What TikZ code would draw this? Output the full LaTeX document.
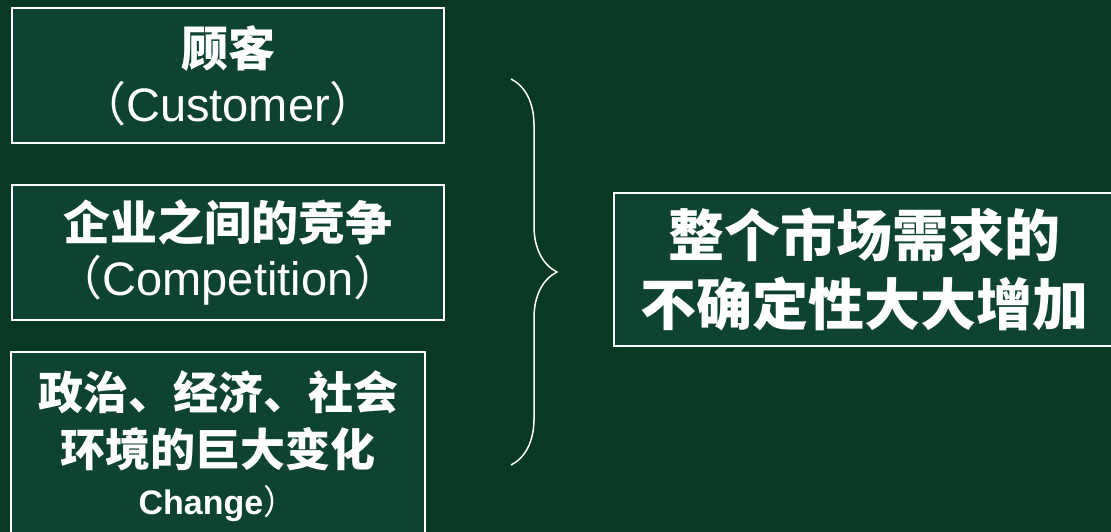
\documentclass[tikz,border=0pt]{standalone}
\usepackage{fontspec}
\setmainfont{Liberation Sans}
\newfontfamily\cjk{Noto Sans CJK SC}
\usetikzlibrary{positioning,decorations.pathreplacing}
\definecolor{bggreen}{RGB}{8,57,35}
\definecolor{boxgreen}{RGB}{14,66,50}

\begin{document}
\begin{tikzpicture}[x=1pt, y=-1pt,
    factor/.style={draw=white, fill=boxgreen, line width=1.5pt, text=white, align=center, inner sep=0pt, minimum width=432pt, minimum height=135pt, font=\fontsize{47}{55}\selectfont},
    result/.style={factor, minimum width=500pt, minimum height=153pt, font=\cjk\bfseries\fontsize{56}{69}\selectfont},
    brace/.style={decorate, decoration={brace, amplitude=46pt}, draw=white, line width=1.5pt}
]
    \useasboundingbox (0,0) rectangle (1111,532);
    \fill[bggreen] (0,0) rectangle (1111,532);
    \clip (0,0) rectangle (1111,532);

    % factors on the left
    \node[factor] (cust) at (228,75.5) {{\cjk\bfseries 顾客}\\{\cjk （}Customer{\cjk ）}};
    \node[factor] (comp) at (228,252.5) {{\cjk\bfseries 企业之间的竞争}\\{\cjk （}Competition{\cjk ）}};
    \node[factor, minimum width=414pt, minimum height=188pt, font=\cjk\bfseries\fontsize{45}{57}\selectfont] (env) at (218,446) {政治、经济、社会\\环境的巨大变化\\[-9pt]{\rmfamily\fontsize{34}{40}\selectfont Change{\cjk\mdseries ）}}};

    % result
    \node[result] (market) at (864,269.5) {整个市场需求的\\不确定性大大增加};

    \coordinate (braceTop) at (511,79);
    \coordinate (braceBot) at (511,465);
    \draw[brace] (braceTop) -- (braceBot);
\end{tikzpicture}
\end{document}
